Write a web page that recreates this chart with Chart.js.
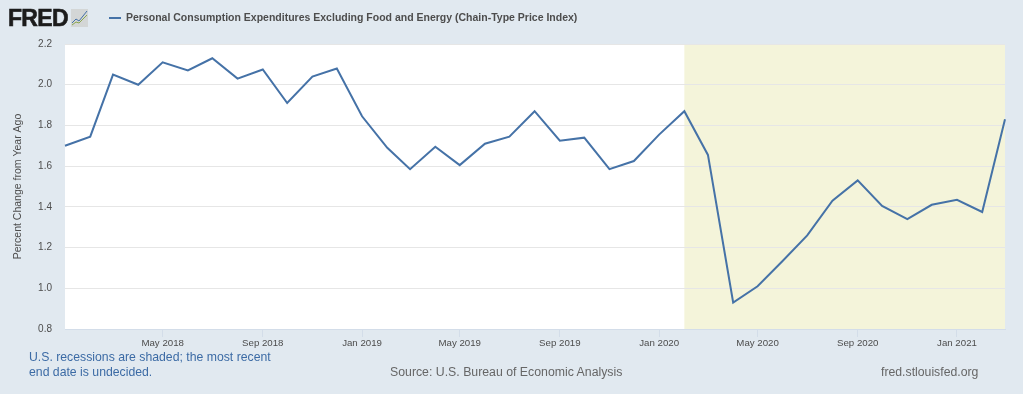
<!DOCTYPE html>
<html>
<head>
<meta charset="utf-8">
<title>FRED chart</title>
<script src="https://cdn.jsdelivr.net/npm/chart.js@4/dist/chart.umd.min.js"></script>
<style>
  html, body { margin: 0; padding: 0; background: #e1e9f0; overflow: hidden; }
  #wrap { position: relative; width: 1023px; height: 394px; font-family: "Liberation Sans", Arial, sans-serif; }
  #chart-1 { position: absolute; left: 0; top: 0; }
  .txt { position: absolute; white-space: nowrap; }
  #logo { left: 8px; top: 5px; font-size: 23px; line-height: 27px; font-weight: bold; color: #1c1c1c; letter-spacing: -0.7px; -webkit-text-stroke: 0.6px #1c1c1c; }
  #logo-icon { position: absolute; left: 71px; top: 9px; }
  #legend-line { position: absolute; left: 109px; top: 17px; width: 12px; height: 2px; background: #4572a7; }
  #legend { left: 126px; top: 11px; font-size: 10.5px; line-height: 13px; font-weight: bold; color: #4d4d4d; }
  #note { left: 29px; top: 350px; font-size: 12.25px; line-height: 15px; color: #3c6ba5; }
  #source { left: 390px; top: 365px; font-size: 12.3px; line-height: 15px; color: #666; }
  #site { left: 881px; top: 365px; font-size: 12.25px; line-height: 15px; color: #666; }
</style>
</head>
<body>
<div id="wrap">
  <canvas id="chart-1" width="1023" height="394"></canvas>
  <div class="txt" id="logo">FRED</div>
  <svg id="logo-icon" width="17" height="18" viewBox="0 0 17 18">
    <rect width="17" height="18" fill="#d3d6d6"/>
    <polyline points="1,14 5,10 8,12 12,7 16,2" fill="none" stroke="#4572a7" stroke-width="1"/>
    <polyline points="1,16 5,13 8,14 12,10 16,6" fill="none" stroke="#8aa64f" stroke-width="1"/>
  </svg>
  <div id="legend-line"></div>
  <div class="txt" id="legend">Personal Consumption Expenditures Excluding Food and Energy (Chain-Type Price Index)</div>
  <div class="txt" id="note">U.S. recessions are shaded; the most recent<br>end date is undecided.</div>
  <div class="txt" id="source">Source: U.S. Bureau of Economic Analysis</div>
  <div class="txt" id="site">fred.stlouisfed.org</div>
</div>
<script>
var months = [
  "2018-01", "2018-02", "2018-03", "2018-04", "2018-05", "2018-06", "2018-07", "2018-08", "2018-09", "2018-10", "2018-11", "2018-12",
  "2019-01", "2019-02", "2019-03", "2019-04", "2019-05", "2019-06", "2019-07", "2019-08", "2019-09", "2019-10", "2019-11", "2019-12",
  "2020-01", "2020-02", "2020-03", "2020-04", "2020-05", "2020-06", "2020-07", "2020-08", "2020-09", "2020-10", "2020-11", "2020-12",
  "2021-01", "2021-02", "2021-03"
];
var pce_values = [
  1.70, 1.745, 2.05, 2.00, 2.11, 2.07, 2.13, 2.03, 2.075, 1.91, 2.04, 2.08,
  1.845, 1.69, 1.585, 1.695, 1.605, 1.71, 1.745, 1.87, 1.725, 1.74, 1.585, 1.625,
  1.755, 1.87, 1.655, 0.93, 1.01, 1.135, 1.26, 1.43, 1.53, 1.405, 1.34, 1.41,
  1.435, 1.375, 1.83
];
var tick_months = ["2018-05", "2018-09", "2019-01", "2019-05", "2019-09", "2020-01", "2020-05", "2020-09", "2021-01"];
var tick_labels = ["May 2018", "Sep 2018", "Jan 2019", "May 2019", "Sep 2019", "Jan 2020", "May 2020", "Sep 2020", "Jan 2021"];
var y_ticks = [0.8, 1.0, 1.2, 1.4, 1.6, 1.8, 2.0, 2.2];
var recession_start = "2020-02";
var recession_end = "2021-03";

function monthTime(m) {
  var p = m.split("-");
  return Date.UTC(Number(p[0]), Number(p[1]) - 1, 1);
}

var points = [];
for (let i = 0; i < months.length; i++) {
  points.push({ x: monthTime(months[i]), y: pce_values[i] });
}

// paints plot background and recession band, runs before the grid is drawn
var plotBackground = {
  id: "plotBackground",
  beforeDraw: function (chart) {
    const ctx = chart.ctx;
    const area = chart.chartArea;
    const x0 = chart.scales.x.getPixelForValue(monthTime(recession_start));
    const x1 = chart.scales.x.getPixelForValue(monthTime(recession_end));
    ctx.save();
    ctx.fillStyle = "#ffffff";
    ctx.fillRect(area.left, area.top, area.width, area.height);
    ctx.fillStyle = "#f4f4da";
    ctx.fillRect(x0, area.top, x1 - x0, area.height);
    ctx.restore();
  },
};

Chart.defaults.font.family = '"Liberation Sans", Arial, sans-serif';

const ctx = document.getElementById("chart-1").getContext("2d");
const myChart = new Chart(ctx, {
  type: "line",
  data: {
    datasets: [
      {
        label: "Personal Consumption Expenditures Excluding Food and Energy (Chain-Type Price Index)",
        data: points,
        borderColor: "#4572a7",
        borderWidth: 2,
        pointRadius: 0,
        tension: 0,
        clip: false,
      },
    ],
  },
  options: {
    responsive: false,
    animation: false,
    layout: { padding: { top: 44, right: 18, left: 0, bottom: 0 } },
    plugins: {
      legend: { display: false },
      tooltip: { enabled: false },
    },
    scales: {
      x: {
        type: "linear",
        min: monthTime(months[0]),
        max: monthTime(months[months.length - 1]),
        afterBuildTicks: function (scale) {
          scale.ticks = tick_months.map(function (m) {
            return { value: monthTime(m) };
          });
        },
        afterFit: function (scale) {
          scale.height = 65;
        },
        grid: { drawOnChartArea: false, color: "#d3dde9", tickLength: 8, lineWidth: 1 },
        border: { color: "#d3dde9" },
        ticks: {
          autoSkip: false,
          maxRotation: 0,
          padding: 1,
          color: "#4d4d4d",
          font: { size: 9.7 },
          callback: function (value) {
            for (let i = 0; i < tick_months.length; i++) {
              if (monthTime(tick_months[i]) === value) return tick_labels[i];
            }
            return "";
          },
        },
      },
      y: {
        min: 0.8,
        max: 2.2,
        afterBuildTicks: function (scale) {
          scale.ticks = y_ticks.map(function (v) {
            return { value: v };
          });
        },
        afterFit: function (scale) {
          scale.width = 65;
        },
        grid: { color: "#e6e6e6", drawTicks: false, lineWidth: 1 },
        border: { display: false },
        title: {
          display: true,
          text: "Percent Change from Year Ago",
          color: "#4d4d4d",
          font: { size: 10.5 },
          padding: { top: 12, bottom: 0 },
        },
        ticks: {
          padding: 13,
          color: "#4d4d4d",
          font: { size: 10 },
          callback: function (value) {
            return value.toFixed(1);
          },
        },
      },
    },
  },
  plugins: [plotBackground],
});
</script>
</body>
</html>
